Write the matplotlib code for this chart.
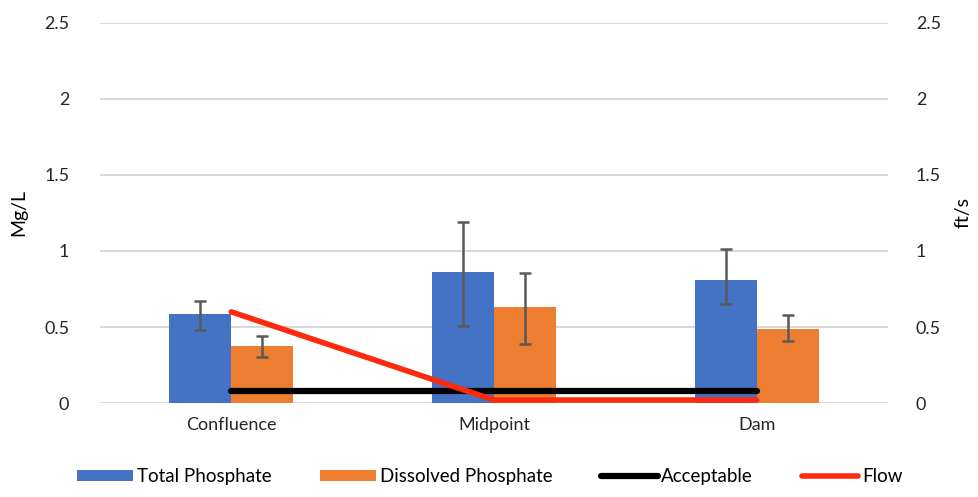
import matplotlib.pyplot as plt
import numpy as np

plt.rcParams['font.family'] = ['Lato', 'DejaVu Sans']

sites = ["Confluence", "Midpoint", "Dam"]
total_phosphate = [0.585, 0.86, 0.81]
total_err_low = [0.48, 0.51, 0.65]
total_err_high = [0.67, 1.19, 1.01]
dissolved_phosphate = [0.375, 0.63, 0.49]
dissolved_err_low = [0.30, 0.39, 0.41]
dissolved_err_high = [0.44, 0.855, 0.58]
acceptable = [0.08, 0.08, 0.08]
flow = [0.6, 0.02, 0.02]
yticks = [0, 0.5, 1, 1.5, 2, 2.5]
ytick_labels = ["0", "0.5", "1", "1.5", "2", "2.5"]

blue = "#4472c4"
orange = "#ed7d31"
err_color = "#595959"

fig = plt.figure(figsize=(9.79, 4.97), dpi=100)
ax = fig.add_axes([0.102, 0.189, 0.805, 0.765])
ax2 = ax.twinx()

x = np.arange(len(sites))
w = 0.236

tp = np.array(total_phosphate)
dp = np.array(dissolved_phosphate)
tp_err = [tp - np.array(total_err_low), np.array(total_err_high) - tp]
dp_err = [dp - np.array(dissolved_err_low), np.array(dissolved_err_high) - dp]

b1 = ax.bar(x - w / 2, tp, w, color=blue, label="Total Phosphate", zorder=2)
b2 = ax.bar(x + w / 2, dp, w, color=orange, label="Dissolved Phosphate", zorder=2)
ax.errorbar(x - w / 2, tp, yerr=tp_err, fmt="none", ecolor=err_color,
            elinewidth=1.8, capsize=4, capthick=1.8, zorder=3)
ax.errorbar(x + w / 2, dp, yerr=dp_err, fmt="none", ecolor=err_color,
            elinewidth=1.8, capsize=4, capthick=1.8, zorder=3)
l1, = ax.plot(x, acceptable, color="black", lw=4.5, solid_capstyle="round",
              label="Acceptable", zorder=4)
l2, = ax2.plot(x, flow, color="#ff2a0d", lw=4, solid_capstyle="round",
               label="Flow", zorder=4)

for a in (ax, ax2):
    a.set_ylim(0, 2.5)
    a.set_yticks(yticks)
    a.set_yticklabels(ytick_labels)
    a.tick_params(axis="y", length=0, labelsize=13, colors="#262626")
    for s in a.spines.values():
        s.set_visible(False)
ax.tick_params(axis="y", pad=22)
ax2.tick_params(axis="y", pad=20)
ax.set_xlim(-0.5, 2.5)
ax.set_xticks(x)
ax.set_xticklabels(sites)
ax.tick_params(axis="x", length=0, labelsize=13, colors="#262626", pad=10)
ax.yaxis.grid(True, color="#d9d9d9", lw=1.5)
ax.set_axisbelow(True)
ax.set_ylabel("Mg/L", fontsize=14, labelpad=12)
ax2.set_ylabel("ft/s", fontsize=14, labelpad=10)

fig.legend([b1, b2, l1, l2],
           ["Total Phosphate", "Dissolved Phosphate", "Acceptable", "Flow"],
           loc="lower center", ncol=4, frameon=False,
           fontsize=13.5, bbox_to_anchor=(0.5, -0.01), handlelength=3.0,
           handleheight=0.5, columnspacing=2.6, handletextpad=0.2)

fig.savefig("out.png", dpi=100)
